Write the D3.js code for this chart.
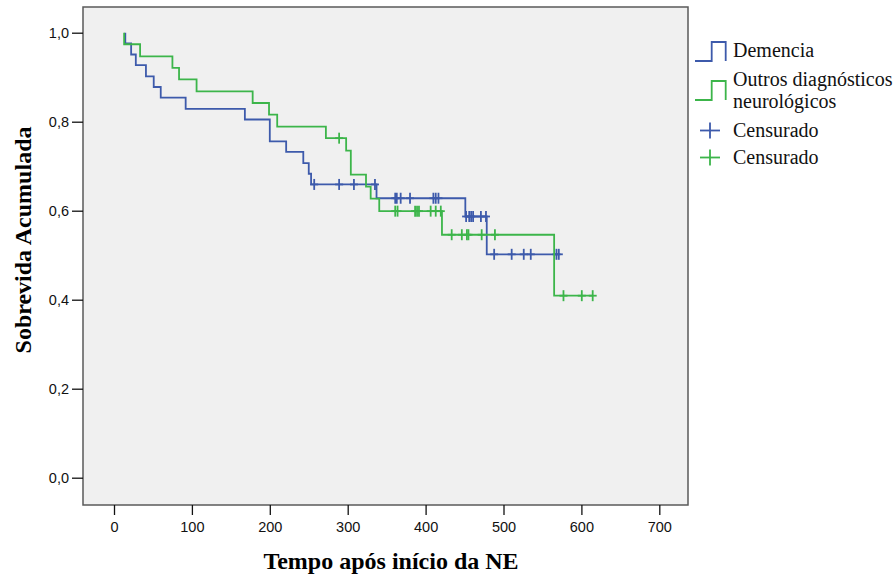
<!DOCTYPE html>
<html>
<head>
<meta charset="utf-8">
<script src="https://cdn.jsdelivr.net/npm/d3@7"></script>
<style>
  body { margin: 0; background: #fff; }
  svg { display: block; }
</style>
</head>
<body>
<script>
// Kaplan-Meier steps: event times and survival after each step
const demTimes = [14.5, 14.5, 22, 28, 41, 51, 60, 92, 168, 200, 221, 243, 250, 253, 337, 451, 478.5];
const demSurv  = [1.0, 0.976, 0.951, 0.927, 0.902, 0.878, 0.854, 0.829, 0.805, 0.756, 0.732, 0.707, 0.683, 0.659, 0.628, 0.587, 0.502];
const demCensor = [257, 289, 308, 335, 361, 363, 368, 380, 410, 413, 416.5, 452, 456, 458.5, 461, 471, 477.5, 488, 510.5, 526, 535, 568, 571];

const outTimes = [13, 13, 33.5, 75, 83.5, 106, 178, 199, 209.5, 272, 298, 304, 323.5, 329.5, 340.5, 421, 565];
const outSurv  = [1.0, 0.974, 0.947, 0.921, 0.895, 0.868, 0.842, 0.816, 0.789, 0.763, 0.735, 0.681, 0.654, 0.627, 0.599, 0.546, 0.409];
const outCensor = [289, 361, 364, 386.5, 389, 391.5, 406.5, 413, 419.5, 433.5, 446.5, 453, 455, 472, 489, 577, 600.5, 614.5];

const xTicks = [0, 100, 200, 300, 400, 500, 600, 700];
const yTicks = [0, 0.2, 0.4, 0.6, 0.8, 1.0];

const legendLabels = ["Demencia", ["Outros diagnósticos", "neurológicos"], "Censurado", "Censurado"];

const blue = "#3d5aab";
const green = "#3cb54a";

const W = 895, H = 576;
const frame = { left: 83, top: 7, right: 688, bottom: 505 };

const svg = d3.select("body").append("svg")
  .attr("width", W)
  .attr("height", H);

const x = d3.scaleLinear().domain([0, 700]).range([114, 659.3]);
const y = d3.scaleLinear().domain([0, 1]).range([477.7, 32.7]);

// plot background
svg.append("rect")
  .attr("x", frame.left)
  .attr("y", frame.top)
  .attr("width", frame.right - frame.left)
  .attr("height", frame.bottom - frame.top)
  .attr("fill", "#f0f0f0")
  .attr("stroke", "#5a5a5a")
  .attr("stroke-width", 1.5);

// axes
const xAxis = d3.axisBottom(x)
  .tickValues(xTicks)
  .tickSize(10)
  .tickSizeOuter(0)
  .tickPadding(7)
  .tickFormat(d3.format("d"));

const gx = svg.append("g")
  .attr("transform", "translate(0," + frame.bottom + ")")
  .call(xAxis);

const yAxis = d3.axisLeft(y)
  .tickValues(yTicks)
  .tickSize(11)
  .tickSizeOuter(0)
  .tickPadding(3)
  .tickFormat(d => d3.format(".1f")(d).replace(".", ","));

const gy = svg.append("g")
  .attr("transform", "translate(" + frame.left + ",0)")
  .call(yAxis);

[gx, gy].forEach(g => {
  g.select(".domain").remove();
  g.selectAll(".tick line").attr("stroke", "#111").attr("stroke-width", 1.3);
  g.selectAll(".tick text")
    .attr("fill", "#111")
    .style("font-family", "'Liberation Sans', Arial, sans-serif")
    .style("font-size", "14.5px");
});

// axis titles
svg.append("text")
  .attr("x", 391)
  .attr("y", 569)
  .attr("text-anchor", "middle")
  .style("font-family", "'Liberation Serif', 'Times New Roman', serif")
  .style("font-weight", "bold")
  .style("font-size", "24px")
  .text("Tempo após início da NE");

svg.append("text")
  .attr("transform", "translate(31,240) rotate(-90)")
  .attr("text-anchor", "middle")
  .style("font-family", "'Liberation Serif', 'Times New Roman', serif")
  .style("font-weight", "bold")
  .style("font-size", "24px")
  .text("Sobrevida Acumulada");

// survival curves
const line = d3.line()
  .x(d => x(d[0]))
  .y(d => y(d[1]))
  .curve(d3.curveStepAfter);

function survAt(times, surv, t) {
  let s = surv[0];
  for (let i = 0; i < times.length; i++) {
    if (times[i] <= t) s = surv[i];
  }
  return s;
}

function drawGroup(times, surv, censor, color) {
  const pts = times.map((t, i) => [t, surv[i]]);
  const lastT = d3.max(censor.concat(times));
  pts.push([lastT, surv[surv.length - 1]]);

  svg.append("path")
    .datum(pts)
    .attr("fill", "none")
    .attr("stroke", color)
    .attr("stroke-width", 1.8)
    .attr("d", line);

  const marks = svg.append("g");
  censor.forEach(t => {
    const cx = x(t), cy = y(survAt(times, surv, t));
    marks.append("line")
      .attr("x1", cx).attr("x2", cx)
      .attr("y1", cy - 5.5).attr("y2", cy + 5.5)
      .attr("stroke", color).attr("stroke-width", 1.8);
    marks.append("line")
      .attr("x1", cx - 4).attr("x2", cx + 4)
      .attr("y1", cy).attr("y2", cy)
      .attr("stroke", color).attr("stroke-width", 1.8);
  });
}

drawGroup(demTimes, demSurv, demCensor, blue);
drawGroup(outTimes, outSurv, outCensor, green);

// legend
const leg = svg.append("g");
const legFont = "'Liberation Serif', 'Times New Roman', serif";

function stepSymbol(yTop, yBot, color) {
  leg.append("path")
    .attr("d", "M695," + yBot + "H711.7V" + yTop + "H725.7V" + yBot)
    .attr("fill", "none")
    .attr("stroke", color)
    .attr("stroke-width", 1.8);
}

function plusSymbol(cy, color) {
  leg.append("line").attr("x1", 710).attr("x2", 710).attr("y1", cy - 8).attr("y2", cy + 8)
    .attr("stroke", color).attr("stroke-width", 1.8);
  leg.append("line").attr("x1", 700).attr("x2", 720).attr("y1", cy).attr("y2", cy)
    .attr("stroke", color).attr("stroke-width", 1.8);
}

function legText(tx, ty, str) {
  leg.append("text")
    .attr("x", tx).attr("y", ty)
    .style("font-family", legFont)
    .style("font-size", "20px")
    .attr("fill", "#111")
    .text(str);
}

stepSymbol(42, 61, blue);
legText(733, 57, legendLabels[0]);

stepSymbol(81, 100, green);
legText(733, 86, legendLabels[1][0]);
legText(733, 108, legendLabels[1][1]);

plusSymbol(130.5, blue);
legText(733, 136.5, legendLabels[2]);

plusSymbol(157.5, green);
legText(733, 164, legendLabels[3]);
</script>
</body>
</html>
